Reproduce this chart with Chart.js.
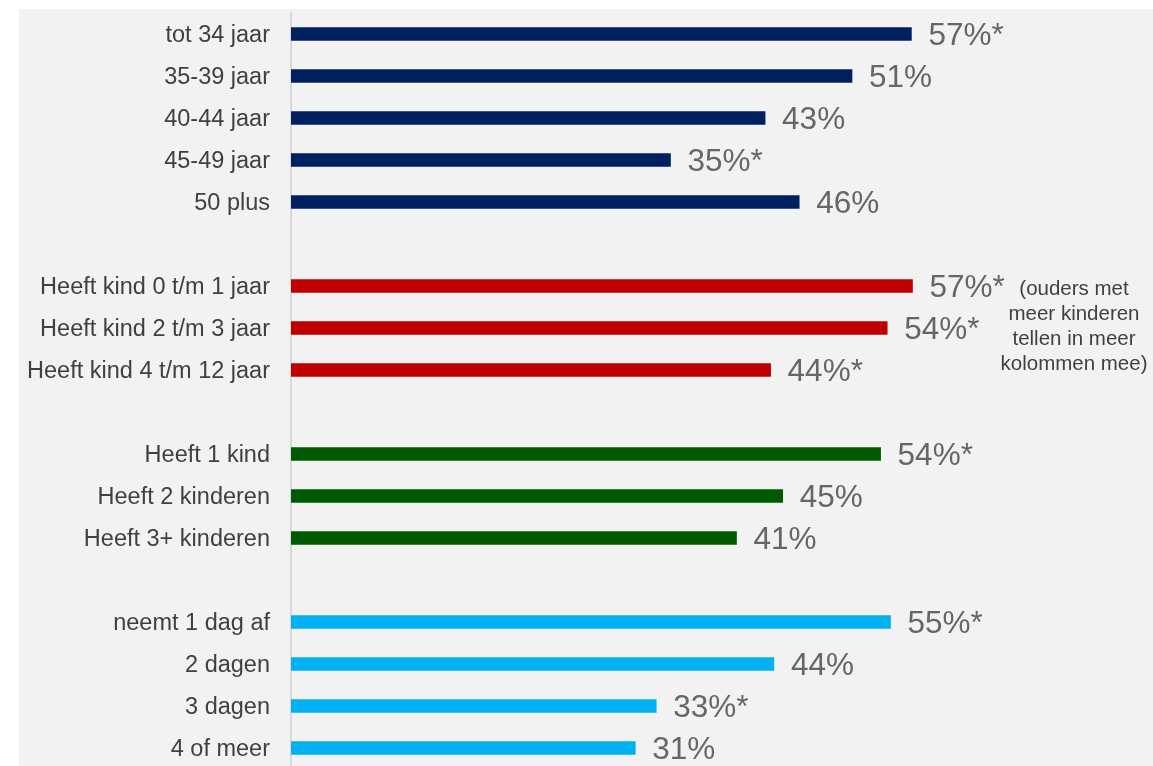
<!DOCTYPE html>
<html>
<head>
<meta charset="utf-8">
<script src="https://cdn.jsdelivr.net/npm/chart.js@4/dist/chart.umd.min.js"></script>
<style>
    html, body { margin: 0; padding: 0; background: #ffffff; overflow: hidden; width: 1153px; height: 766px; }
    #wrap { position: absolute; left: 19px; top: 9px; width: 1134px; height: 760px; background: #f2f2f2; }
</style>
</head>
<body>
<div id="wrap"><canvas id="chart"></canvas></div>
<script>
    // Data (empty entries are the gaps between groups)
    const categories = [
        'tot 34 jaar', '35-39 jaar', '40-44 jaar', '45-49 jaar', '50 plus', '',
        'Heeft kind 0 t/m 1 jaar', 'Heeft kind 2 t/m 3 jaar', 'Heeft kind 4 t/m 12 jaar', '',
        'Heeft 1 kind', 'Heeft 2 kinderen', 'Heeft 3+ kinderen', '',
        'neemt 1 dag af', '2 dagen', '3 dagen', '4 of meer'
    ];
    const values = [
        56.4, 51.0, 43.1, 34.5, 46.2, null,
        56.5, 54.2, 43.6, null,
        53.6, 44.7, 40.5, null,
        54.5, 43.9, 33.2, 31.3
    ];
    const valueLabels = [
        '57%*', '51%', '43%', '35%*', '46%', '',
        '57%*', '54%*', '44%*', '',
        '54%*', '45%', '41%', '',
        '55%*', '44%', '33%*', '31%'
    ];
    const barColors = [
        '#002060', '#002060', '#002060', '#002060', '#002060', null,
        '#c00000', '#c00000', '#c00000', null,
        '#005a00', '#005a00', '#005a00', null,
        '#00b0f0', '#00b0f0', '#00b0f0', '#00b0f0'
    ];
    const noteLines = ['(ouders met', 'meer kinderen', 'tellen in meer', 'kolommen mee)'];

    // value labels + side note
    const labelPlugin = {
        id: 'valueLabels',
        afterDatasetsDraw(chart) {
            const ctx = chart.ctx;
            const meta = chart.getDatasetMeta(0);
            ctx.save();
            ctx.font = '31.5px "Liberation Sans", Arial, sans-serif';
            ctx.fillStyle = '#666666';
            ctx.textAlign = 'left';
            ctx.textBaseline = 'middle';
            meta.data.forEach((bar, i) => {
                if (values[i] === null) return;
                ctx.fillText(valueLabels[i], bar.x + 17, bar.y + 2.5);
            });

            // note next to the child-age group
            const yScale = chart.scales.y;
            const y0 = yScale.getPixelForValue(6) + 3;
            ctx.font = '20.5px "Liberation Sans", Arial, sans-serif';
            ctx.fillStyle = '#404040';
            ctx.textAlign = 'center';
            noteLines.forEach((line, k) => {
                ctx.fillText(line, 1055, y0 + k * 25);
            });
            ctx.restore();
        }
    };

    new Chart(document.getElementById('chart'), {
        type: 'bar',
        data: {
            labels: categories,
            datasets: [{
                data: values,
                backgroundColor: barColors,
                barThickness: 13
            }]
        },
        options: {
            indexAxis: 'y',
            responsive: true,
            maintainAspectRatio: false,
            animation: false,
            layout: { padding: { top: 4, right: 92, bottom: 0, left: 0 } },
            scales: {
                x: {
                    display: false,
                    min: 0,
                    max: 70
                },
                y: {
                    afterFit(scale) {
                        scale.width = 272;
                        scale.paddingTop = 0;
                        scale.paddingBottom = 0;
                    },
                    grid: { display: false, drawTicks: false },
                    border: { display: true, color: '#d9d9d9', width: 2 },
                    ticks: {
                        color: '#404040',
                        padding: 21,
                        labelOffset: 2,
                        font: { family: '"Liberation Sans", Arial, sans-serif', size: 23.5 }
                    }
                }
            },
            plugins: {
                legend: { display: false },
                tooltip: { enabled: false }
            }
        },
        plugins: [labelPlugin]
    });
</script>
</body>
</html>
